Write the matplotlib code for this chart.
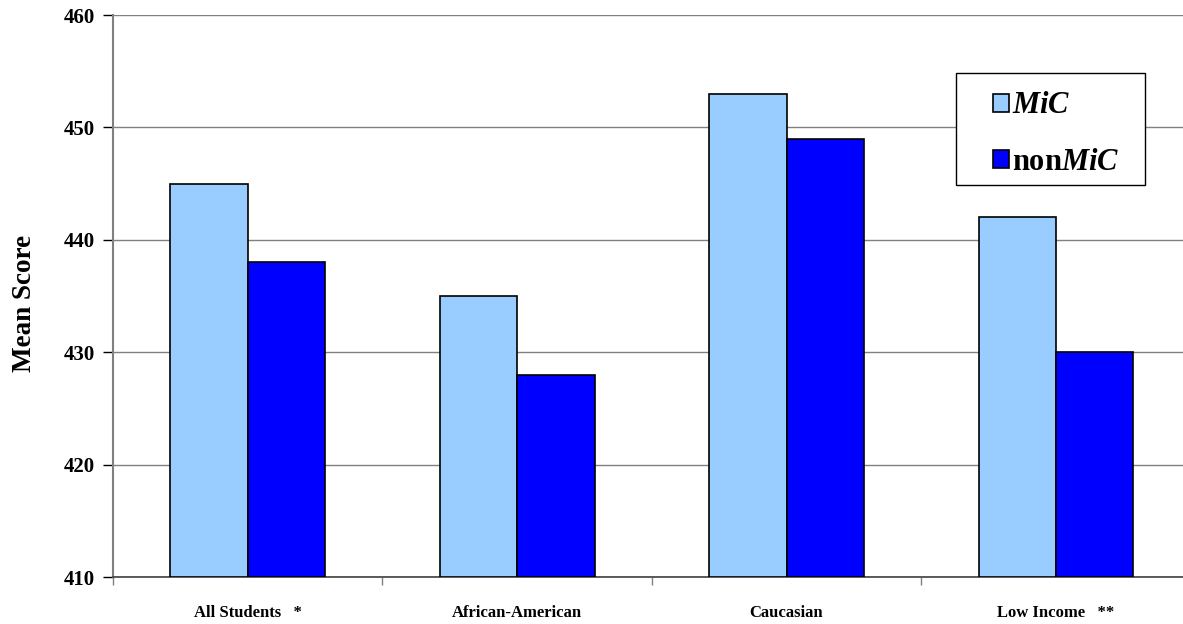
import numpy as np
import matplotlib.pyplot as plt
from matplotlib.patches import Rectangle

# mean scores by student group
groups = ["All Students   *", "African-American", "Caucasian", "Low Income   **"]
mic_scores = [445, 435, 453, 442]
nonmic_scores = [438, 428, 449, 430]
series_names = [r"$\mathbfit{MiC}$", r"non$\mathbfit{MiC}$"]
yticks = [410, 420, 430, 440, 450, 460]

plt.rcParams['font.family'] = ['Liberation Serif', 'DejaVu Serif']
plt.rcParams['mathtext.fontset'] = 'custom'
plt.rcParams['mathtext.bfit'] = 'Liberation Serif:italic:bold'
plt.rcParams['mathtext.rm'] = 'Liberation Serif'
plt.rcParams['mathtext.it'] = 'Liberation Serif:italic'
plt.rcParams['mathtext.bf'] = 'Liberation Serif:bold'

fig = plt.figure(figsize=(11.83, 6.24), dpi=100)
ax = fig.add_axes([0.0955, 0.0753, 0.911, 0.9006])

x = np.arange(len(groups))
w = 0.2875
ax.bar(x - w / 2, np.array(mic_scores) - 410, w, bottom=410, color='#99CCFF',
       edgecolor='black', linewidth=1.2, label=series_names[0], zorder=3)
ax.bar(x + w / 2, np.array(nonmic_scores) - 410, w, bottom=410, color='#0000FF',
       edgecolor='black', linewidth=1.2, label=series_names[1], zorder=3)

ax.set_xlim(-0.5, len(groups) - 0.5)
ax.set_ylim(410, 460)
ax.set_yticks(yticks)
ax.set_yticklabels([str(v) for v in yticks], fontsize=15, fontweight='bold')
ax.yaxis.grid(True, color='#808080', linewidth=1.0, zorder=0)

# category labels sit between the ticks
ax.set_xticks(np.arange(len(groups) + 1) - 0.5)
ax.set_xticklabels([])
ax.set_xticks(x, minor=True)
ax.set_xticklabels(groups, minor=True, fontsize=12, fontweight='bold')
ax.tick_params(axis='x', which='minor', length=0, pad=20)
ax.tick_params(axis='x', which='major', length=6, color='#808080', width=1)
ax.tick_params(axis='y', length=7, color='black', width=1, pad=6)

ax.set_ylabel("Mean Score", fontsize=19.5, fontweight='bold')
ax.yaxis.set_label_coords(-0.0705, 0.487)

for side in ['top', 'right']:
    ax.spines[side].set_visible(False)
ax.spines['left'].set_color('#808080')
ax.spines['left'].set_linewidth(1.5)
ax.spines['bottom'].set_color('#404040')
ax.spines['bottom'].set_linewidth(1.2)

# legend box drawn separately so its size can be set
ax.add_patch(Rectangle((0.782, 0.6975), 0.176, 0.1995, transform=ax.transAxes,
                       facecolor='white', edgecolor='black', linewidth=1.0,
                       zorder=4))
leg = ax.legend(loc='upper left', bbox_to_anchor=(0.8165, 0.864),
                prop={'family': 'Liberation Serif', 'weight': 'bold', 'size': 22},
                frameon=False, handlelength=0.52, handleheight=0.52,
                handletextpad=0.12, borderpad=0, labelspacing=0.9,
                borderaxespad=0)
leg.set_zorder(5)

fig.savefig("out.png", dpi=100)
